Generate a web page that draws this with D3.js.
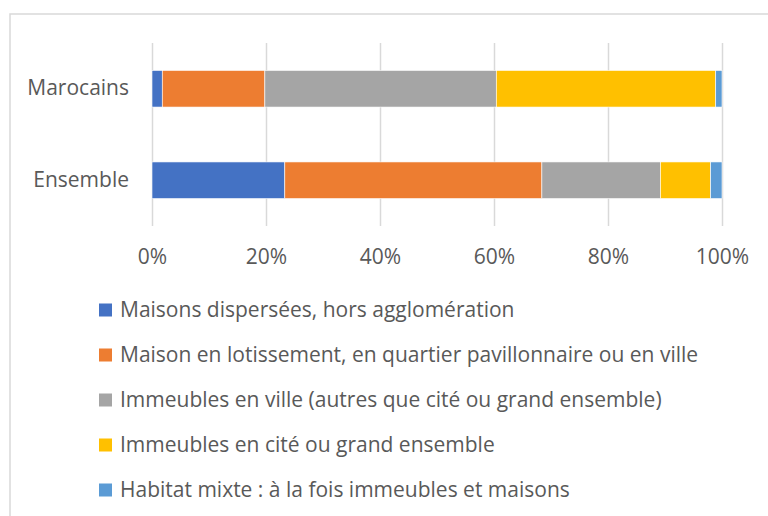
<!DOCTYPE html>
<html>
<head>
<meta charset="utf-8">
<script src="https://cdn.jsdelivr.net/npm/d3@7"></script>
<style>
  body { margin: 0; background: #fff; }
  text { font-family: "Open Sans", "Noto Sans", sans-serif; fill: #595959; }
</style>
</head>
<body>
<svg id="chart" width="768" height="516"></svg>
<script>
// categories (top to bottom) and shares per housing type, in %
let categories = ["Marocains", "Ensemble"];
let seriesNames = [
    "Maisons dispersées, hors agglomération",
    "Maison en lotissement, en quartier pavillonnaire ou en ville",
    "Immeubles en ville (autres que cité ou grand ensemble)",
    "Immeubles en cité ou grand ensemble",
    "Habitat mixte : à la fois immeubles et maisons"
];
let maisonsDispersees = [1.8, 23.3];
let maisonLotissement = [18.0, 45.1];
let immeublesVille = [40.6, 20.8];
let immeublesCite = [38.5, 8.8];
let habitatMixte = [1.1, 2.0];
let tickValues = [0, 20, 40, 60, 80, 100];
let colors = ["#4472C4", "#ED7D31", "#A5A5A5", "#FFC000", "#5B9BD5"];

let seriesValues = [maisonsDispersees, maisonLotissement, immeublesVille, immeublesCite, habitatMixte];

// table for d3.stack
let table = categories.map(function (c, i) {
    let row = {cat: c};
    seriesNames.forEach(function (s, j) { row[s] = seriesValues[j][i]; });
    return row;
});

let fontSize = '21px';

let svg = d3.select('svg#chart'),
    margin = {top: 43, left: 152, right: 46, bottom: 290},
    width = +svg.attr("width"),
    height = +svg.attr("height");

// chart frame (cut off at right and bottom like the source)
svg.append('rect')
    .attr('x', 10).attr('y', 14)
    .attr('width', 800).attr('height', 600)
    .attr('fill', 'none')
    .attr('stroke', '#d9d9d9')
    .attr('stroke-width', 1.5);

let xScale = d3.scaleLinear()
    .domain([0, 100])
    .range([margin.left, width - margin.right]);

let plotBottom = height - margin.bottom;

let yScale = d3.scaleBand()
    .domain(categories)
    .range([margin.top, plotBottom])
    .paddingInner(0.6)
    .paddingOuter(0.3);

// gridlines + tick labels
let xAxis = d3.axisBottom(xScale)
    .tickValues(tickValues)
    .tickSize(-(plotBottom - margin.top))
    .tickFormat(function (d) { return d + "%"; });

let gx = svg.append('g')
    .attr('transform', 'translate(0,' + plotBottom + ')')
    .call(xAxis);
gx.select('.domain').remove();
gx.selectAll('line').attr('stroke', '#d9d9d9').attr('stroke-width', 1.5);
gx.selectAll('text')
    .attr('y', 31)
    .attr('dy', '0.35em')
    .style('font-size', fontSize);

// category labels
let yAxis = d3.axisLeft(yScale).tickSize(0).tickPadding(23);
let gy = svg.append('g')
    .attr('transform', 'translate(' + margin.left + ',0)')
    .call(yAxis);
gy.select('.domain').remove();
gy.selectAll('text').style('font-size', fontSize);

// stacked bars
let stack = d3.stack().keys(seriesNames);
let layers = stack(table);

svg.append('g').selectAll('g')
    .data(layers)
    .enter().append('g')
    .attr('fill', function (d, i) { return colors[i]; })
    .selectAll('rect')
    .data(function (d) { return d; })
    .enter().append('rect')
    .attr('x', function (d) { return xScale(d[0]); })
    .attr('y', function (d) { return yScale(d.data.cat); })
    .attr('width', function (d) { return xScale(d[1]) - xScale(d[0]); })
    .attr('height', yScale.bandwidth())
    .attr('stroke', '#fff')
    .attr('stroke-width', 0.6);

// legend
let legend = svg.append('g').selectAll('g')
    .data(seriesNames)
    .enter().append('g')
    .attr('transform', function (d, i) { return 'translate(99,' + (310 + i * 45) + ')'; });

legend.append('rect')
    .attr('x', 0).attr('y', -6.5)
    .attr('width', 13).attr('height', 13)
    .attr('fill', function (d, i) { return colors[i]; });

legend.append('text')
    .attr('x', 21)
    .attr('dy', '0.35em')
    .style('font-size', fontSize)
    .text(function (d) { return d; });
</script>
</body>
</html>
